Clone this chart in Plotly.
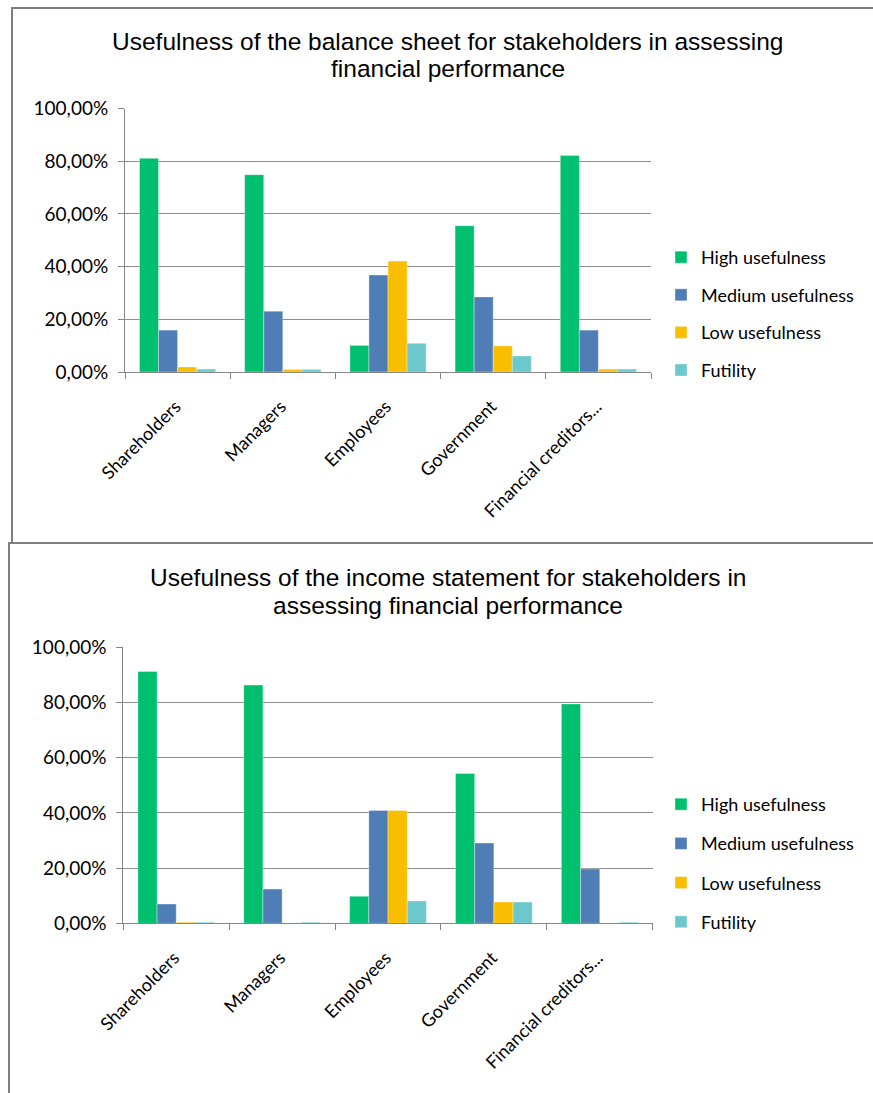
import plotly.graph_objects as go

# Stakeholder groups on the category axis
categories = ["Shareholders", "Managers", "Employees", "Government", "Financial creditors..."]

# Usefulness levels (legend entries) and their colours
levels = ["High usefulness", "Medium usefulness", "Low usefulness", "Futility"]
colors = ["#00BF6F", "#4F7EB6", "#F9BE00", "#6DC8CD"]

# Balance sheet ratings, percent of respondents
bs_high = [81.1, 74.9, 10.1, 55.5, 82.2]
bs_medium = [15.9, 23.1, 36.8, 28.5, 15.9]
bs_low = [1.9, 1.0, 42.1, 9.9, 1.1]
bs_futility = [1.1, 1.0, 10.9, 6.1, 1.1]

# Income statement ratings, percent of respondents
is_high = [91.2, 86.3, 9.8, 54.3, 79.5]
is_medium = [7.0, 12.4, 40.9, 29.1, 19.7]
is_low = [0.4, 0.0, 40.9, 7.7, 0.0]
is_futility = [0.4, 0.4, 8.1, 7.7, 0.4]

# Chart titles, one entry per line
titles = [
    ["Usefulness of the balance sheet for stakeholders in assessing", "financial performance"],
    ["Usefulness of the income statement for stakeholders in", "assessing financial performance"],
]

W, H = 873, 1093
LABEL_FONT = "Lato, Carlito, 'Open Sans', sans-serif"
TITLE_FONT = "'Liberation Sans', Arial, sans-serif"


def px_x(x):
    return x / W


def px_y(y):
    return 1 - y / H


fig = go.Figure()

panels = [
    dict(series=[bs_high, bs_medium, bs_low, bs_futility], xa="x", ya="y", legend="legend"),
    dict(series=[is_high, is_medium, is_low, is_futility], xa="x2", ya="y2", legend="legend2"),
]

for p in panels:
    for name, vals, col in zip(levels, p["series"], colors):
        fig.add_trace(go.Bar(
            x=categories,
            y=[v / 100 for v in vals],
            name=name,
            marker=dict(color=col, line=dict(width=0.6, color="rgba(255,255,255,0.6)")),
            xaxis=p["xa"],
            yaxis=p["ya"],
            legend=p["legend"],
            legendgroup=p["legend"] + name,
        ))

axis_common_x = dict(
    type="category",
    automargin=False,
    showgrid=False,
    showline=True,
    linecolor="#868686",
    linewidth=1,
    ticks="outside",
    tickson="boundaries",
    ticklen=6,
    tickcolor="#868686",
    tickangle=-45,
    ticklabelstandoff=16,
    ticklabelshift=-2,
    tickfont=dict(family=LABEL_FONT, size=18, color="#000000"),
)
axis_common_y = dict(
    range=[0, 1.0],
    automargin=False,
    tickvals=[0, 0.2, 0.4, 0.6, 0.8, 1.0],
    tickformat=".2%",
    showgrid=True,
    gridcolor="#8C8C8C",
    gridwidth=1,
    showline=True,
    linecolor="#868686",
    linewidth=1,
    ticks="outside",
    ticklen=6,
    tickcolor="#868686",
    zeroline=False,
    tickfont=dict(family=LABEL_FONT, size=19, color="#000000"),
    ticklabelstandoff=6,
)

legend_common = dict(
    font=dict(family=LABEL_FONT, size=18, color="#000000"),
    bgcolor="rgba(0,0,0,0)",
    traceorder="grouped",
    itemwidth=30,
    xanchor="left",
    yanchor="top",
)

fig.update_layout(
    width=W,
    height=H,
    margin=dict(l=0, r=0, t=0, b=0, autoexpand=False),
    paper_bgcolor="white",
    plot_bgcolor="white",
    separators=",.",
    bargap=0.275,
    bargroupgap=0,
    barmode="group",
    xaxis=dict(domain=[px_x(125), px_x(651)], anchor="y", **axis_common_x),
    yaxis=dict(domain=[px_y(372), px_y(108.5)], anchor="x", **axis_common_y),
    xaxis2=dict(domain=[px_x(123.3), px_x(652.7)], anchor="y2", **axis_common_x),
    yaxis2=dict(domain=[px_y(923.3), px_y(647.3)], anchor="x2", **axis_common_y),
    legend=dict(x=px_x(661), y=px_y(239), tracegroupgap=11.2, **legend_common),
    legend2=dict(x=px_x(661), y=px_y(786), tracegroupgap=12.8, **legend_common),
    showlegend=True,
)

# Chart titles
for lines, ys in zip(titles, [(41, 69), (577, 605)]):
    for text, cy in zip(lines, ys):
        fig.add_annotation(
            text=text, xref="paper", yref="paper",
            x=px_x(448), y=px_y(cy), xanchor="center", yanchor="middle",
            showarrow=False, align="center",
            font=dict(family=TITLE_FONT, size=24.5, color="#000000"),
        )

# Chart frames
fig.add_shape(type="rect", xref="paper", yref="paper",
              x0=px_x(12), x1=px_x(900), y0=px_y(543), y1=px_y(8),
              line=dict(color="#7F7F7F", width=2), layer="below")
fig.add_shape(type="rect", xref="paper", yref="paper",
              x0=px_x(9), x1=px_x(900), y0=px_y(1120), y1=px_y(543),
              line=dict(color="#7F7F7F", width=2), layer="below")

fig.write_html("out.html")
